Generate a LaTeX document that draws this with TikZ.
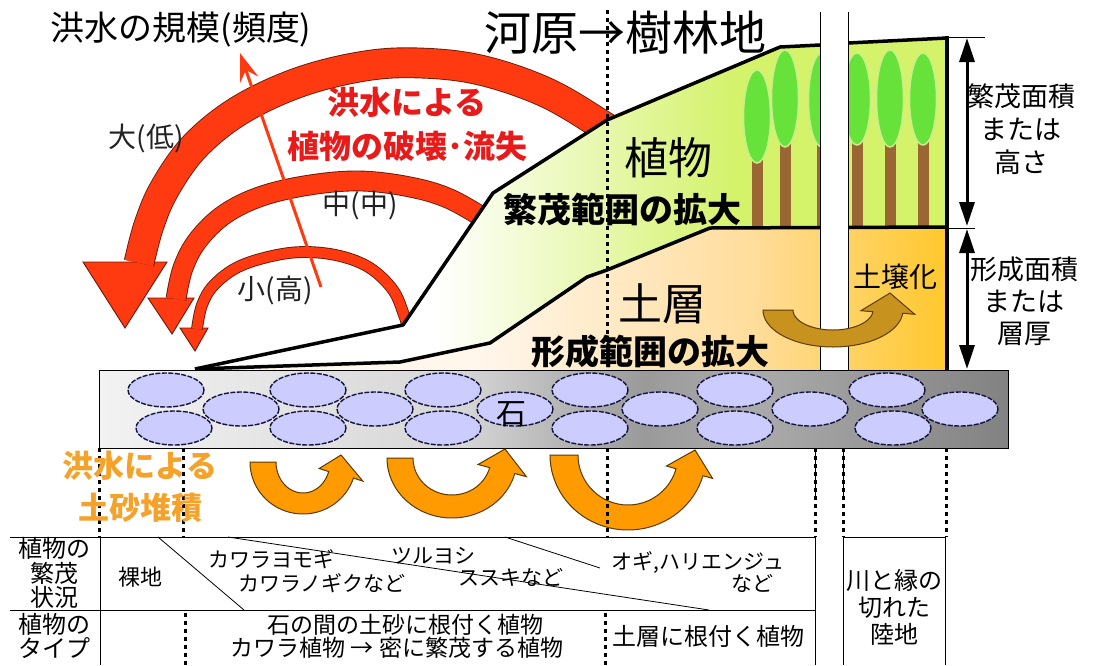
\documentclass[tikz,border=0pt]{standalone}
\usepackage{fontspec}
\setmainfont{Noto Sans CJK JP}
\usetikzlibrary{arrows.meta,calc}

\definecolor{flood}{HTML}{FF3A10}
\definecolor{floodrim}{HTML}{6A1A08}
\definecolor{floodtxt}{HTML}{E81A1A}
\definecolor{sedi}{HTML}{FF9A00}
\definecolor{sedirim}{HTML}{5A3A00}
\definecolor{seditxt}{HTML}{F4A22A}
\definecolor{vegg}{HTML}{D4F26A}
\definecolor{crown}{HTML}{66E23A}
\definecolor{crownrim}{HTML}{C8F08A}
\definecolor{trunk}{HTML}{9A6633}
\definecolor{soilA}{HTML}{FFF6EC}
\definecolor{soilB}{HTML}{FFDD9C}
\definecolor{soilC}{HTML}{FFC82C}
\definecolor{stone}{HTML}{CCCCFF}
\definecolor{stonerim}{HTML}{14143C}
\definecolor{humus}{HTML}{C8921E}
\definecolor{humusrim}{HTML}{5C3C08}
\definecolor{labelgray}{HTML}{222222}
\definecolor{gravA}{HTML}{F2F2F2}
\definecolor{gravB}{HTML}{D6D6D6}
\definecolor{gravC}{HTML}{9A9A9A}
\definecolor{gravD}{HTML}{ABABAB}
\definecolor{gravE}{HTML}{828282}

\pgfdeclarehorizontalshading{vegshade}{100bp}{color(0bp)=(white); color(41bp)=(white); color(61bp)=(vegg); color(100bp)=(vegg)}
\pgfdeclarehorizontalshading{soilshade}{100bp}{color(0bp)=(soilA); color(44bp)=(soilA); color(62bp)=(soilB); color(75bp)=(soilC); color(100bp)=(soilC)}
\pgfdeclarehorizontalshading{gravelshade}{100bp}{color(0bp)=(gravA); color(25bp)=(gravA); color(45bp)=(gravB); color(55bp)=(gravC); color(61bp)=(gravD); color(75bp)=(gravE); color(100bp)=(gravE)}

\newcommand\fsz[2]{\fontsize{#1}{#2}\selectfont}

% curved block arrow: centre x, centre y, outer radii, inner radii,
% end angle, head overhang, tip point (starts at 180 degrees)
\newcommand{\bendarrow}[9]{%
  \pgfmathsetmacro\bxB{#1+(#3+#8)*cos(#7)}\pgfmathsetmacro\byB{#2+(#4+#8)*sin(#7)}%
  \pgfmathsetmacro\bxC{#1+(#5-#8)*cos(#7)}\pgfmathsetmacro\byC{#2+(#6-#8)*sin(#7)}%
  \path[blockarrow] plot[domain=180:#7, samples=40, variable=\ang] ({#1+#3*cos(\ang)},{#2+#4*sin(\ang)})
    -- (\bxB,\byB) -- #9 -- (\bxC,\byC)
    -- plot[domain=#7:180, samples=40, variable=\ang] ({#1+#5*cos(\ang)},{#2+#6*sin(\ang)}) -- cycle;}

\begin{document}
\begin{tikzpicture}[x=1pt,y=-1pt,
  floodline/.style={line width=0.9pt, draw=floodrim, double=flood, line cap=butt},
  floodhead/.style={fill=flood, draw=floodrim, line width=0.9pt, line join=miter},
  crownshape/.style={fill=crown, draw=crownrim, line width=1.5pt},
  edge/.style={line width=3.5pt, line join=round},
  stoneshape/.style={fill=stone, draw=stonerim, line width=1.4pt, dash pattern=on 5pt off 1.5pt},
  dotline/.style={line width=3pt, dash pattern=on 3.5pt off 4.5pt},
  tbl/.style={line width=0.8pt},
  lbl/.style={inner sep=0pt},
  dim/.style={line width=3pt, >={Triangle[width=15pt,length=24pt]}, <->}]
\useasboundingbox (0,0) rectangle (1093,665);

% flood disturbance arcs, cut off by the slope
\begin{scope}
  \clip (0,0) -- (0,380) -- (195,369) -- (403,325) -- (493,193) -- (607,120) -- (701,60) -- (701,0) -- cycle;
  \path[floodhead] (83,262) -- (167,262) -- (125,328) -- cycle;
  \path[floodhead] (148,298) -- (194,298) -- (172,334) -- cycle;
  \path[floodhead] (180,328) -- (208,328) -- (195,351) -- cycle;
  \draw[floodline, double distance=29pt] plot[smooth, tension=0.6] coordinates
    {(139,263) (149,225) (165,188) (195,146) (240,110) (300,82) (365,66) (420,63) (480,70) (545,92) (600,124) (625,142)};
  \draw[floodline, double distance=19pt] plot[smooth, tension=0.6] coordinates
    {(176,299) (183,268) (198,240) (225,214) (262,196) (310,185) (360,181) (410,187) (450,199) (490,222)};
  \draw[floodline, double distance=10pt] plot[smooth, tension=0.6] coordinates
    {(197,329) (202,305) (214,285) (238,267) (272,256) (305,252) (340,256) (370,268) (393,290) (404,315) (410,335)};
\end{scope}

% vegetation and soil layers
\shade[shading=vegshade] (195,369) -- (403,325) -- (493,193) -- (607,120) -- (780,47) -- (820,45) -- (848,43) -- (947,38)
  -- (947,227) -- (710,228) -- (607,270) -- (587,277) -- (490,343) -- (400,362) -- cycle;
\shade[shading=soilshade] (195,369) -- (400,362) -- (490,343) -- (587,277) -- (607,270) -- (710,228) -- (947,227) -- (947,370) -- (195,370) -- cycle;

% trees
\foreach \tx/\tp/\bt in {757/70/163, 785/50/147, 822/53/147, 857/53/145, 890/50/147, 923/53/145}{
  \fill[trunk] (\tx-5.5,\bt-8) rectangle (\tx+5.5,227);
  \path[crownshape] (\tx,{(\tp+\bt)/2}) ellipse[x radius=13.5, y radius={(\bt-\tp)/2}];
}

% layer boundaries
\draw[edge] (195,369) -- (403,325) -- (493,193) -- (607,120) -- (780,47) -- (820,45) -- (848,43) -- (947,38);
\draw[edge] (195,369) -- (400,362) -- (490,343) -- (587,277) -- (607,270) -- (710,228) -- (947,227);
\draw[edge] (947,36) -- (947,370);

% river channel
\fill[white] (820,12) rectangle (848,370);
\draw[line width=1pt] (820,12) -- (820,370) (848,12) -- (848,370);

% gravel bed
\shade[shading=gravelshade, draw=black, line width=1pt] (99,370) rectangle (1008,448);
\foreach \x in {166,308,443,590,735,887} \path[stoneshape] (\x,390) ellipse[x radius=38, y radius=17];
\foreach \x in {174,308,443,590,735,893} \path[stoneshape] (\x,428) ellipse[x radius=38, y radius=17];
\foreach \x in {241,375,515,660,810,960} \path[stoneshape] (\x,409) ellipse[x radius=38, y radius=17];
\node[lbl, font=\fsz{30}{32}] (ishi) at (511,414) {石};

% sediment deposition and soil formation arrows
\begin{scope}[blockarrow/.style={fill=sedi, draw=sedirim, line width=1pt, line join=miter}]
  \bendarrow{303}{462}{53}{52}{27}{31}{18}{10}{(341,455)}
  \bendarrow{452}{458}{65}{60}{39}{37}{15}{12}{(505,449)}
  \bendarrow{628}{455}{78}{75}{50}{50}{16}{10}{(695,450)}
\end{scope}
\begin{scope}[blockarrow/.style={fill=humus, draw=humusrim, line width=1pt, line join=miter}]
  \bendarrow{833}{310}{70}{37}{40}{20}{5}{12}{(890,293)}
\end{scope}

% river channel below the gravel
\draw[line width=1pt] (815,448) -- (815,498) (843,448) -- (843,498);

% zone boundaries
\draw[dotline] (607,10) -- (607,370) (607,448) -- (607,537);
\draw[dotline] (99,448) -- (99,537) (183,448) -- (183,537);
\draw[dotline] (815,448) -- (815,537) (843,448) -- (843,537) (946,448) -- (946,537);

% flood scale arrow
\coordinate (small) at (321,287);
\coordinate (large) at (240,53);
\draw[flood, line width=3pt, -{Stealth[length=28pt,width=19pt,inset=10pt]}] (small) -- (large);

% labels
\node[lbl, font=\fsz{34}{36}] (title) at (181,30) {洪水の規模(頻度)};
\node[lbl, font=\fsz{47}{50}] (succ) at (625,33) {河原→樹林地};
\node[lbl, font=\bfseries\fsz{32}{44}, text=floodtxt, align=center] (destr) at (407,124) {洪水による\\植物の破壊･流失};
\node[lbl, font=\fsz{28}{30}, text=labelgray] (big) at (146,138) {大(低)};
\node[lbl, font=\fsz{28}{30}, text=labelgray] (mid) at (360,205) {中(中)};
\node[lbl, font=\fsz{28}{30}, text=labelgray] (sml) at (275,290) {小(高)};
\node[lbl, font=\fsz{44}{46}] (plant) at (668,158) {植物};
\node[lbl, font=\bfseries\fsz{34}{36}] (plantx) at (622,209) {繁茂範囲の拡大};
\node[lbl, font=\fsz{44}{46}] (soil) at (662,304) {土層};
\node[lbl, font=\bfseries\fsz{34}{36}] (soilx) at (650,352) {形成範囲の拡大};
\node[lbl, font=\fsz{28}{30}] (pedo) at (895,277) {土壌化};
\node[lbl, font=\fsz{27}{33}, align=center] (vegdim) at (1021,129) {繁茂面積\\または\\高さ};
\node[lbl, font=\fsz{27}{32}, align=center] (soildim) at (1024,301) {形成面積\\または\\層厚};
\node[lbl, font=\bfseries\fsz{31}{42}, text=seditxt, align=center] (depo) at (140,487) {洪水による\\土砂堆積};

% dimension arrows
\coordinate (d1) at (967,38);
\coordinate (d2a) at (967,226);
\coordinate (d2b) at (967,229);
\coordinate (d3) at (967,369);
\draw[line width=1pt] (949,37) -- (985,37) (949,228) -- (975,228);
\draw[dim] (d1) -- (d2a);
\draw[dim] (d2b) -- (d3);

% table
\draw[tbl] (10,537) -- (815,537) (10,610) -- (815,610) (100,537) -- (100,665) (815,537) -- (815,665);
\draw[tbl] (843,665) -- (843,537) -- (945,537) -- (945,665);
\draw[tbl] (158,537) -- (244,610);
\draw[tbl] (228,537) -- (709,610);
\draw[tbl] (505,537) -- (600,568);
\draw[dotline] (185,613) -- (185,665) (605,613) -- (605,665);
\node[lbl, font=\fsz{24}{24.5}, align=center] (rowA) at (55,573) {植物の\\繁茂\\状況};
\node[lbl, font=\fsz{24}{24}, align=center] (rowB) at (55,636) {植物の\\タイプ};
\node[lbl, font=\fsz{22}{24}] (bare) at (140,577) {裸地};
\node[lbl, font=\fsz{21}{23}] (yomogi) at (271,559) {カワラヨモギ};
\node[lbl, font=\fsz{21}{23}] (nogiku) at (322,583) {カワラノギクなど};
\node[lbl, font=\fsz{21}{23}] (tsuru) at (433,556) {ツルヨシ};
\node[lbl, font=\fsz{21}{23}] (susuki) at (511,577) {ススキなど};
\node[lbl, font=\fsz{21}{23}] (ogi) at (698,563) {オギ,ハリエンジュ};
\node[lbl, font=\fsz{21}{23}] (ogi2) at (752,583) {など};
\node[lbl, font=\fsz{23}{23}] (typeA) at (405,625) {石の間の土砂に根付く植物};
\node[lbl, font=\fsz{23}{23}] (typeB) at (397,648) {カワラ植物 → 密に繁茂する植物};
\node[lbl, font=\fsz{24}{24}] (typeC) at (708,636) {土層に根付く植物};
\node[lbl, font=\fsz{24}{27}, align=center] (land) at (894,607) {川と縁の\\切れた\\陸地};
\end{tikzpicture}
\end{document}
